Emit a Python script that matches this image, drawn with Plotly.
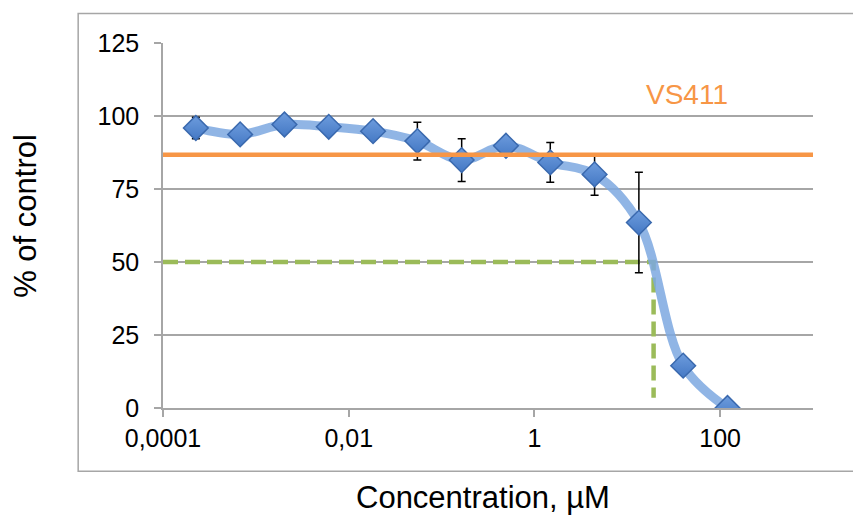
import math
import plotly.graph_objects as go

# ---- data ----
conc_uM = [0.0002258, 0.0006774, 0.002032, 0.006097, 0.01829, 0.05487,
           0.1646, 0.4938, 1.481, 4.444, 13.33, 40.0, 120.0]
pct_control = [95.9, 93.7, 97.1, 96.3, 94.8, 91.4, 84.9, 89.8, 84.1, 80.0, 63.5, 14.5, 0.0]
pct_error = [3.7, 0, 0, 0, 0, 6.5, 7.3, 0, 6.8, 7.1, 17.2, 0, 0]

vs411_level = 86.7
vs411_x = [0.0001, 1000]
vs411_label = "VS411"
vs411_label_pos = (43.5, 107.2)

ic50_x = [0.0001, 19.2, 19.2]
ic50_y = [50, 50, 3.5]

x_tickvals = [0.0001, 0.01, 1, 100]
x_ticktext = ["0,0001", "0,01", "1", "100"]
y_tickvals = [0, 25, 50, 75, 100, 125]

FONT = "Liberation Sans, Arial, sans-serif"
GRID = "#A6A6A6"

fig = go.Figure()

# IC50 guide (green dashed)
fig.add_trace(go.Scatter(
    x=ic50_x, y=ic50_y, mode="lines",
    line=dict(color="#9BBB59", width=4.5, dash="15px,7px"),
    hoverinfo="skip", showlegend=False))

# smoothed curve
fig.add_trace(go.Scatter(
    x=conc_uM, y=pct_control, mode="lines",
    line=dict(color="rgba(125,168,224,0.85)", width=9, shape="spline", smoothing=1.0),
    hoverinfo="skip", showlegend=False))

# markers with error bars
fig.add_trace(go.Scatter(
    x=conc_uM, y=pct_control, mode="markers",
    marker=dict(symbol="diamond", size=19, color="#6D9CDD",
                gradient=dict(type="vertical", color="#4478C4"),
                line=dict(color="#3A69AE", width=1.5)),
    error_y=dict(type="data", array=pct_error, visible=True,
                 color="black", thickness=1.5, width=4),
    showlegend=False))

# VS411 level (orange)
fig.add_trace(go.Scatter(
    x=vs411_x, y=[vs411_level, vs411_level], mode="lines",
    line=dict(color="#F79646", width=4.5),
    hoverinfo="skip", showlegend=False))

# annotations on a log axis take log10 positions
fig.add_annotation(x=math.log10(vs411_label_pos[0]), y=vs411_label_pos[1],
                   xref="x", yref="y",
                   text=vs411_label, showarrow=False,
                   font=dict(family=FONT, size=28, color="#F79646"),
                   xanchor="center", yanchor="middle")

# axis titles
fig.add_annotation(x=0.492, y=-0.245, xref="paper", yref="paper",
                   text="Concentration, µM", showarrow=False,
                   font=dict(family=FONT, size=31, color="black"),
                   xanchor="center", yanchor="middle")
fig.add_annotation(x=-0.212, y=0.527, xref="paper", yref="paper",
                   text="% of control", showarrow=False, textangle=-90,
                   font=dict(family=FONT, size=31, color="black"),
                   xanchor="center", yanchor="middle")

# outer chart frame
fig.add_shape(type="rect", xref="paper", yref="paper",
              x0=-0.1305, x1=1.2, y0=-0.1735, y1=1.0805,
              line=dict(color=GRID, width=1.5), fillcolor="rgba(0,0,0,0)", layer="below")

fig.update_xaxes(type="log", range=[-4, 3],
                 tickvals=x_tickvals, ticktext=x_ticktext,
                 showgrid=False, zeroline=False,
                 showline=True, linecolor=GRID, linewidth=1.5,
                 ticks="outside", ticklen=7, tickcolor=GRID, tickwidth=1.5,
                 tickfont=dict(family=FONT, size=25, color="black"))
fig.update_yaxes(range=[0, 125], tickvals=y_tickvals,
                 showgrid=True, gridcolor=GRID, gridwidth=1.5, zeroline=False,
                 showline=True, linecolor=GRID, linewidth=1.5,
                 ticks="outside", ticklen=7, tickcolor=GRID, tickwidth=1.5,
                 ticklabelstandoff=10,
                 tickfont=dict(family=FONT, size=25, color="black"))

# page body has an 8px default margin, so the figure is sized to fit the window
fig.update_layout(width=853, height=508,
                  margin=dict(l=155, r=48, t=35, b=108),
                  paper_bgcolor="white", plot_bgcolor="white",
                  showlegend=False)

fig.write_html("out.html")
